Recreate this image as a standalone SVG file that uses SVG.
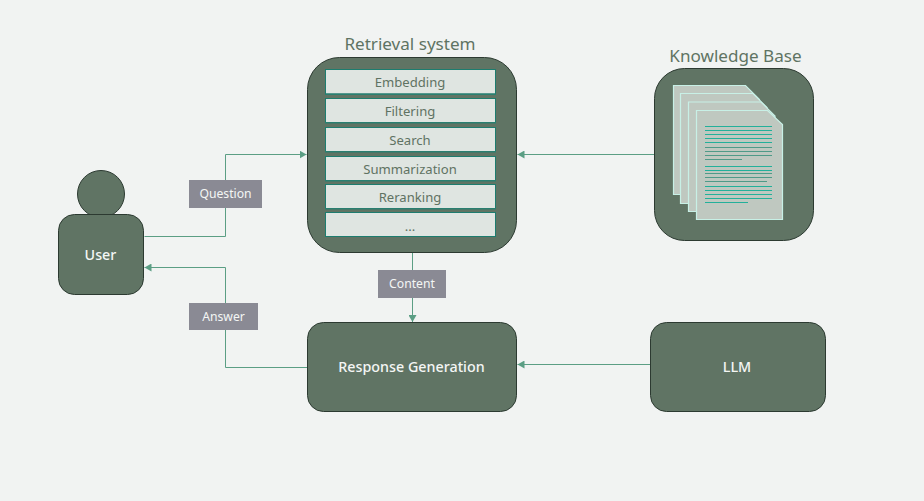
<svg xmlns="http://www.w3.org/2000/svg" width="924" height="501" viewBox="0 0 924 501">
<style>
text{font-family:"Noto Sans","Open Sans","DejaVu Sans",sans-serif;text-anchor:middle}
.n{fill:#607464;stroke:#2c3a31;stroke-width:1}
.w{fill:#f4f6f4;font-size:14.3px;font-weight:500}
.t{fill:#5f7363;font-size:17.1px}
.s{fill:#dfe5e1;stroke:#1d7d6f;stroke-width:1}
.b{fill:#2a7f70;stroke:none}
.i{fill:#5f7363;font-size:13.1px}
.l{fill:#8a8a94}
.lt{fill:#f4f6f4;font-size:12.2px}
.c{fill:none;stroke:#5b9e84;stroke-width:1}
.d{fill:#bfc8c0;stroke:#c8f0e6;stroke-width:1.2}
.a{stroke:#22b09a;stroke-width:1}
.g{stroke:#4f9a88;stroke-width:1}
</style>
<defs>
<marker id="ah" markerUnits="userSpaceOnUse" markerWidth="8" markerHeight="8" refX="7" refY="4" orient="auto"><path d="M0 0L7 4L0 8Z" fill="#5b9e84"/></marker>
</defs>
<rect width="924" height="501" fill="#f1f3f2"/>
<g id="connectors">
<path class="c" d="M144.500 236.500H225.500V154.500H306.500" marker-end="url(#ah)"/>
<path class="c" d="M654.500 154.500H517.500" marker-end="url(#ah)"/>
<path class="c" d="M412.500 252.500V322" marker-end="url(#ah)"/>
<path class="c" d="M307 367.500H225.500V267.500H144.500" marker-end="url(#ah)"/>
<path class="c" d="M650.500 364.500H517.500" marker-end="url(#ah)"/>
</g>
<g id="user">
<circle class="n" cx="101" cy="194" r="23.500"/>
<rect class="n" x="58.500" y="214.500" width="85" height="80" rx="16"/>
<text class="w" x="100.500" y="259.500">User</text>
</g>
<g id="retrieval-system">
<text class="t" x="410" y="49.500">Retrieval system</text>
<rect class="n" x="307.500" y="57.500" width="209" height="195" rx="32"/>
<rect class="s" x="325.500" y="69.500" width="170" height="24.500"/><rect class="b" x="325" y="93.500" width="171" height="1.500"/>
<text class="i" x="410" y="87">Embedding</text>
<rect class="s" x="325.500" y="98.500" width="170" height="24"/><rect class="b" x="325" y="122" width="171" height="1.500"/>
<text class="i" x="410" y="116">Filtering</text>
<rect class="s" x="325.500" y="127.500" width="170" height="24"/><rect class="b" x="325" y="151" width="171" height="1.500"/>
<text class="i" x="410" y="145">Search</text>
<rect class="s" x="325.500" y="156.500" width="170" height="24"/><rect class="b" x="325" y="180" width="171" height="1.500"/>
<text class="i" x="410" y="174">Summarization</text>
<rect class="s" x="325.500" y="184.500" width="170" height="24"/><rect class="b" x="325" y="208" width="171" height="1.500"/>
<text class="i" x="410" y="202">Reranking</text>
<rect class="s" x="325.500" y="212.500" width="170" height="24"/>
<text class="i" x="410" y="231">...</text>
</g>
<g id="knowledge-base">
<text class="t" x="735.500" y="61.500">Knowledge Base</text>
<rect class="n" x="654.500" y="68.500" width="159" height="172" rx="30"/>
<path class="d" d="M673.500 85.500H745.500L759.500 99.500V194.500H673.500Z"/>
<path class="d" d="M680.500 93.500H753L767 107.500V203.500H680.500Z"/>
<path class="d" d="M688.500 102H761L775 116V211.500H688.500Z"/>
<path class="d" d="M696.500 110.500H767.500L782.500 124.500V219.500H696.500Z"/>
<path class="a" d="M705 126.500H772M705 130.500H772M705 134.500H772M705 138.500H772M705 142.500H772M705 166.500H772M705 170.500H772M705 186.500H772M705 190.500H772M705 194.500H772M705 198.500H772M705 202.500H748"/>
<path class="g" d="M705 147.500H772M705 151.500H772M705 155.500H772M705 159.500H742M705 173.500H772M705 177.500H772M705 181.500H767"/>
</g>
<g id="response-generation">
<rect class="n" x="307.500" y="322.500" width="209" height="89" rx="16"/>
<text class="w" x="411.500" y="371.500">Response Generation</text>
</g>
<g id="llm">
<rect class="n" x="650.500" y="322.500" width="175" height="89" rx="16"/>
<text class="w" x="737" y="371.500">LLM</text>
</g>
<g id="label-question"><rect class="l" x="189" y="180" width="73" height="28"/><text class="lt" x="225.500" y="198">Question</text></g>
<g id="label-content"><rect class="l" x="378" y="270" width="68" height="28"/><text class="lt" x="412" y="288">Content</text></g>
<g id="label-answer"><rect class="l" x="189" y="303" width="69" height="27"/><text class="lt" x="223.500" y="321">Answer</text></g>
</svg>
